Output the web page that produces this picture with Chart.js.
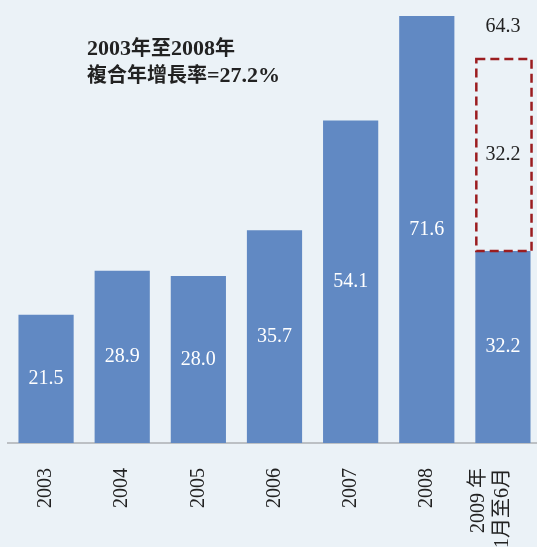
<!DOCTYPE html>
<html>
<head>
<meta charset="utf-8">
<script src="https://cdn.jsdelivr.net/npm/chart.js@4.4.1/dist/chart.umd.min.js"></script>
<style>
  html, body { margin: 0; padding: 0; background: #ebf2f7; overflow: hidden; }
  #chart { display: block; }
</style>
</head>
<body>
<canvas id="chart" width="541" height="547"></canvas>
<script>
const years = ['2003', '2004', '2005', '2006', '2007', '2008', ['2009 年', '1月至6月']];
const actual = [21.5, 28.9, 28.0, 35.7, 54.1, 71.6, 32.2];
const projected = [null, null, null, null, null, null, 32.2];
const totals = [null, null, null, null, null, null, 64.3];
const titleLines = ['2003年至2008年', '複合年增長率=27.2%'];

const SERIF = '"Liberation Serif", "Noto Sans CJK TC", serif';

/* ===== Helpers ===== */

function drawRuns(ctx, text, x, y) {
  const cjk = /[\u3000-\u9fff\uff00-\uffef]/;
  for (const ch of text) {
    ctx.font = cjk.test(ch) ? 'bold 20px "Noto Sans CJK TC"' : 'bold 22px "Liberation Serif"';
    ctx.fillText(ch, x, y);
    x += ctx.measureText(ch).width;
  }
}

/* ===== Plugins ===== */

// multi-line tick: keep the last line on the tick, earlier lines to its left
const tickLines = {
  id: 'tickLines',
  afterLayout(chart) {
    const items = chart.scales.x.getLabelItems();
    items.forEach(it => {
      if (Array.isArray(it.label)) it.textOffset -= (it.label.length - 1) * 24;
    });
  }
};

const annotations = {
  id: 'annotations',
  afterDatasetsDraw(chart) {
    const ctx = chart.ctx;
    ctx.save();

    // dashed box for second half
    const proj = chart.getDatasetMeta(1);
    proj.data.forEach((el, i) => {
      if (projected[i] == null) return;
      const p = el.getProps(['x', 'y', 'base', 'width'], true);
      ctx.strokeStyle = '#9b1d20';
      ctx.lineWidth = 2.5;
      ctx.setLineDash([9, 5]);
      ctx.strokeRect(p.x - p.width / 2 + 1, p.y, p.width, p.base - p.y);
    });
    ctx.setLineDash([]);

    ctx.textAlign = 'center';
    ctx.textBaseline = 'middle';
    ctx.font = '20px ' + SERIF;

    chart.getDatasetMeta(0).data.forEach((el, i) => {
      const p = el.getProps(['x', 'y', 'base'], true);
      ctx.fillStyle = '#ffffff';
      ctx.fillText(actual[i].toFixed(1), p.x, (p.y + p.base) / 2);
    });

    proj.data.forEach((el, i) => {
      if (projected[i] == null) return;
      const p = el.getProps(['x', 'y', 'base'], true);
      ctx.fillStyle = '#222222';
      ctx.fillText(projected[i].toFixed(1), p.x, (p.y + p.base) / 2);
      if (totals[i] != null) ctx.fillText(totals[i].toFixed(1), p.x, p.y - 32);
    });

    // CAGR note
    ctx.textAlign = 'left';
    ctx.textBaseline = 'alphabetic';
    ctx.fillStyle = '#222222';
    drawRuns(ctx, titleLines[0], 87, 55);
    drawRuns(ctx, titleLines[1], 87, 82);

    ctx.restore();
  }
};

/* ===== Chart ===== */

new Chart(document.getElementById('chart'), {
  type: 'bar',
  data: {
    labels: years,
    datasets: [
      {
        data: actual,
        backgroundColor: '#6189c3',
        categoryPercentage: 1,
        barPercentage: 0.725
      },
      {
        data: projected,
        backgroundColor: 'rgba(0,0,0,0)',
        categoryPercentage: 1,
        barPercentage: 0.725
      }
    ]
  },
  options: {
    responsive: false,
    animation: false,
    layout: { padding: { left: 8, right: 0, top: 0, bottom: 0 } },
    plugins: {
      legend: { display: false },
      tooltip: { enabled: false }
    },
    scales: {
      x: {
        stacked: true,
        grid: { display: false, drawTicks: false },
        border: { color: '#bcc0c4', width: 2 },
        ticks: {
          color: '#222222',
          font: { family: SERIF, size: 20 },
          minRotation: 90,
          maxRotation: 90,
          autoSkip: false,
          padding: 25
        },
        afterFit(scale) {
          scale.height = 104;
          scale.paddingLeft = 0;
          scale.paddingRight = 0;
        }
      },
      y: {
        stacked: true,
        display: false,
        min: 0,
        max: 74.3
      }
    }
  },
  plugins: [tickLines, annotations]
});
</script>
</body>
</html>
